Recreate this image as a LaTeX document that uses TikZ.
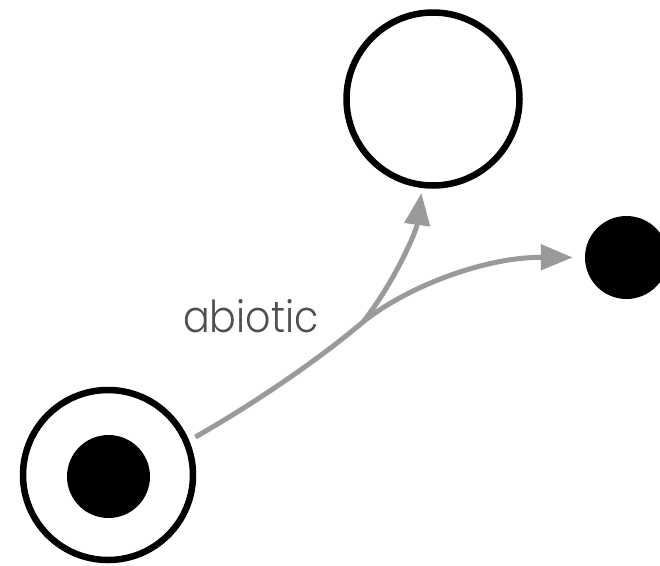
\documentclass[tikz,border=0pt]{standalone}
\usepackage{fontspec}
\setmainfont{Poppins}[UprightFont=* Light]
\usetikzlibrary{arrows.meta}
\definecolor{arrowgray}{HTML}{9A9A9A}
\definecolor{textgray}{HTML}{505050}
\tikzset{
  ring/.style={circle, draw=black, line width=6.5pt, fill=white, inner sep=0pt},
  dot/.style={circle, fill=black, inner sep=0pt, minimum size=83pt},
  flowline/.style={draw=arrowgray, line width=5pt},
  flow/.style={flowline, line cap=round, -{Triangle[length=32pt,width=25pt]}},
  lbl/.style={text=textgray, font=\fontsize{44}{44}\selectfont, inner sep=0pt, xscale=0.9}
}
\begin{document}
\begin{tikzpicture}[x=1pt,y=-1pt]
\useasboundingbox (0,0) rectangle (660,565);
\node[ring, minimum size=170pt] (src) at (108,475) {};
\node[dot] (core) at (108.5,476.5) {};
\node[ring, minimum size=173pt] (top) at (433,99) {};
\node[dot] (right) at (626.5,257.5) {};
\node[lbl, anchor=base west] (abiotic) at (183,332) {abiotic};
\coordinate (fork) at (363,322);
\draw[flowline, shorten <=7pt] (src.23.6) .. controls (255,403) and (318,360) .. (fork);
\draw[flow, shorten >=5pt] (fork) .. controls (393,284) and (416,233) .. (top.263.3);
\draw[flow, shorten >=12pt] (fork) .. controls (405,288) and (483,257) .. (right.west);
\end{tikzpicture}
\end{document}
